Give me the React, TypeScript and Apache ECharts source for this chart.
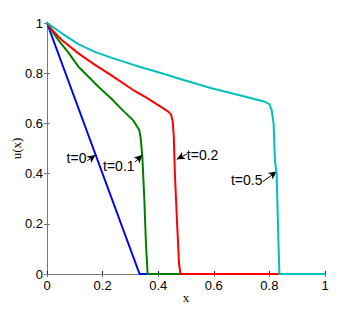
import React, { useEffect, useRef } from "react";
import * as echarts from "echarts";

const xTicks = ["0", "0.2", "0.4", "0.6", "0.8", "1"];
const yTicks = ["0", "0.2", "0.4", "0.6", "0.8", "1"];

const uT0: number[][] = [[0, 1], [0.333, 0], [1, 0]];
const uT01: number[][] = [
  [0, 1], [0.02, 0.965], [0.041, 0.932], [0.075, 0.885], [0.113, 0.826], [0.15, 0.785],
  [0.185, 0.746], [0.23, 0.7], [0.269, 0.656], [0.31, 0.612], [0.332, 0.574], [0.337, 0.54],
  [0.343, 0.467], [0.35, 0.3], [0.356, 0.12], [0.362, 0], [1, 0],
];
const uT02: number[][] = [
  [0, 1], [0.02, 0.97], [0.053, 0.932], [0.113, 0.879], [0.17, 0.835], [0.233, 0.79],
  [0.31, 0.733], [0.353, 0.706], [0.413, 0.664], [0.436, 0.647], [0.446, 0.636], [0.452, 0.61],
  [0.456, 0.55], [0.46, 0.4], [0.468, 0.2], [0.475, 0.04], [0.48, 0], [1, 0],
];
const uT05: number[][] = [
  [0, 1], [0.02, 0.985], [0.053, 0.959], [0.113, 0.916], [0.17, 0.886], [0.233, 0.861],
  [0.32, 0.83], [0.413, 0.8], [0.5, 0.77], [0.592, 0.74], [0.7, 0.71], [0.784, 0.686],
  [0.8, 0.677], [0.808, 0.653], [0.815, 0.6], [0.82, 0.45], [0.826, 0.4], [0.832, 0.15],
  [0.836, 0], [1, 0],
];

const seriesNames = ["t=0", "t=0.1", "t=0.2", "t=0.5"];
const seriesColors = ["#0000ff", "#008000", "#ff0000", "#00bfbf"];
const seriesData = [uT0, uT01, uT02, uT05];
// annotation arrows: [tail, tip] in data coordinates
const arrowTails: number[][] = [[0.145, 0.451], [0.317, 0.447], [0.503, 0.478], [0.776, 0.368]];
const arrowTips: number[][] = [[0.174, 0.474], [0.343, 0.474], [0.467, 0.457], [0.826, 0.408]];
// label anchor points (data coords) and alignment
const labelPos: number[][] = [[0.142, 0.462], [0.315, 0.43], [0.503, 0.475], [0.775, 0.373]];
const labelAlign = ["right", "right", "left", "right"];

const FONT = "'Liberation Sans', Arial, Helvetica, sans-serif";

export default function App() {
  const ref = useRef<HTMLDivElement>(null);
  useEffect(() => {
    if (!ref.current) return;
    const chart = echarts.init(ref.current, null, { renderer: "svg" });
    const axisGrey = "#777777";
    const series: any[] = seriesData.map((d, i) => ({
      type: "line",
      name: seriesNames[i],
      data: d,
      showSymbol: false,
      symbol: "none",
      lineStyle: { color: seriesColors[i], width: 2, join: "round", cap: "round" },
      z: 3 + i,
      markLine: {
        silent: true,
        symbol: ["none", "arrow"],
        symbolSize: [6, 8],
        lineStyle: { color: "#000", width: 1, type: "solid" },
        label: { show: false },
        data: [[{ coord: arrowTails[i] }, { coord: arrowTips[i] }]],
      },
      markPoint: {
        silent: true,
        symbol: "circle",
        symbolSize: 0,
        label: {
          show: true,
          formatter: seriesNames[i],
          position: labelAlign[i] === "right" ? "left" : "right",
          distance: 0,
          color: "#000",
          fontSize: 14,
          fontFamily: FONT,
        },
        data: [{ coord: labelPos[i] }],
      },
    }));
    chart.setOption({
      animation: false,
      backgroundColor: "#ffffff",
      grid: { left: 47, right: 35, top: 23, bottom: 35, show: false, containLabel: false, outerBoundsMode: "none" },
      xAxis: [
        {
          type: "value", min: 0, max: 1, interval: 0.2, position: "bottom",
          name: "x", nameLocation: "middle", nameGap: 17, nameMoveOverlap: false,
          nameTextStyle: { fontFamily: "'Liberation Serif', 'DejaVu Serif', serif", fontSize: 13, color: "#000", verticalAlign: "top" },
          axisLine: { show: true, lineStyle: { color: "#222", width: 1 } },
          axisTick: { show: true, inside: true, length: 3, lineStyle: { color: "#222" } },
          axisLabel: {
            color: "#000", fontSize: 13, fontFamily: FONT, margin: 5,
            formatter: (v: number) => xTicks[Math.round(v / 0.2)],
          },
          splitLine: { show: false },
        },
        {
          type: "value", min: 0, max: 1, interval: 0.2, position: "top",
          axisLine: { show: true, lineStyle: { color: axisGrey, width: 1 } },
          axisTick: { show: true, inside: true, length: 3, lineStyle: { color: axisGrey } },
          axisLabel: { show: false },
          splitLine: { show: false },
        },
      ],
      yAxis: [
        {
          type: "value", min: 0, max: 1, interval: 0.2, position: "left",
          name: "u(x)", nameLocation: "middle", nameGap: 24, nameRotate: 90, nameMoveOverlap: false,
          nameTextStyle: { fontFamily: "'Liberation Serif', 'DejaVu Serif', serif", fontSize: 13, color: "#000" },
          axisLine: { show: true, lineStyle: { color: axisGrey, width: 1 } },
          axisTick: { show: true, inside: true, length: 3, lineStyle: { color: axisGrey } },
          axisLabel: {
            color: "#000", fontSize: 13, fontFamily: FONT, margin: 4,
            formatter: (v: number) => yTicks[Math.round(v / 0.2)],
          },
          splitLine: { show: false },
        },
        {
          type: "value", min: 0, max: 1, interval: 0.2, position: "right",
          axisLine: { show: true, lineStyle: { color: axisGrey, width: 1 } },
          axisTick: { show: true, inside: true, length: 3, lineStyle: { color: axisGrey } },
          axisLabel: { show: false },
          splitLine: { show: false },
        },
      ],
      series,
    });
    return () => chart.dispose();
  }, []);
  return (
    <div
      ref={ref}
      style={{ position: "fixed", left: 0, top: 0, width: 360, height: 309, background: "#fff" }}
    />
  );
}
